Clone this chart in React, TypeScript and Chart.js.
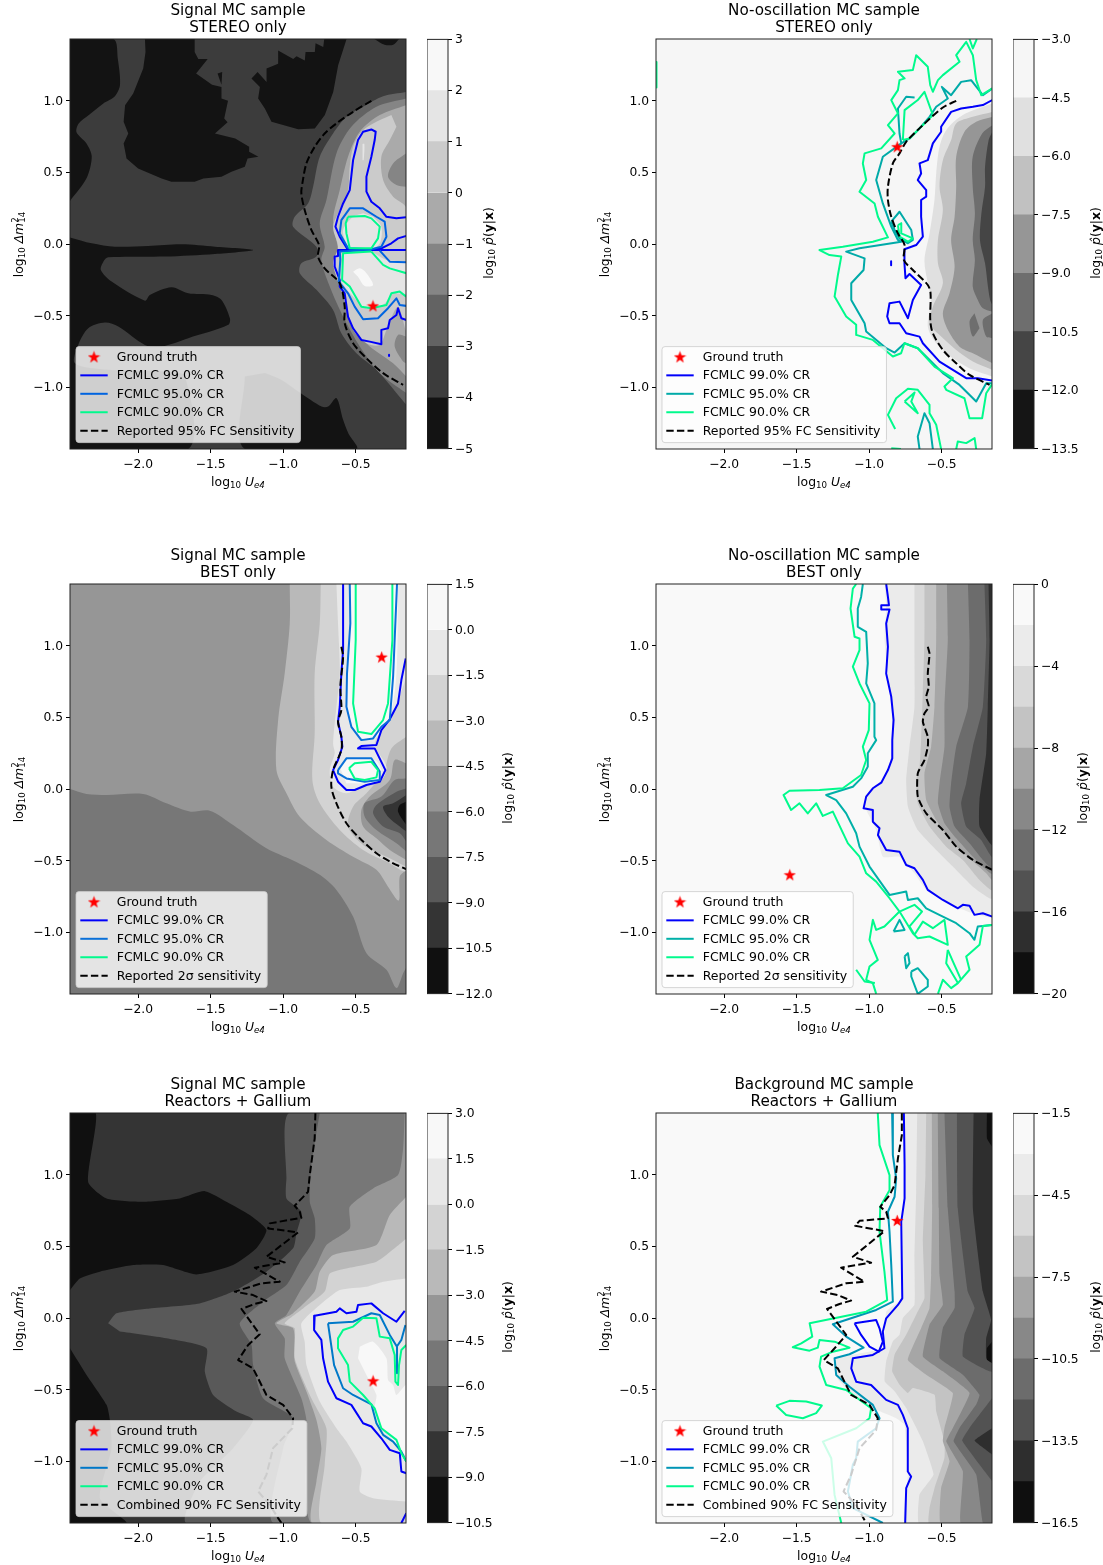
import React, { useEffect, useRef } from "react";
import { Chart, registerables } from "chart.js";

Chart.register(...registerables);

type Pts = number[][];
const FONT = '"DejaVu Sans"';
const xTicks = [-2, -1.5, -1, -0.5];
const yTicks = [-1, -0.5, 0, 0.5, 1];
const X_MIN = -2.47, X_MAX = -0.152, Y_MIN = -1.43, Y_MAX = 1.43;
const fullRect: Pts = [[-2.47, 1.43], [-0.15, 1.43], [-0.15, -1.43], [-2.47, -1.43]];
const loop = (p: Pts): Pts => [...p, p[0]];

// ---------- Panel 1: Signal / STEREO ----------
const p1Levels = [-5, -4, -3, -2, -1, 0, 1, 2, 3];
const p1CbTicks = [-5, -4, -3, -2, -1, 0, 1, 2, 3];
const p1DarkA: Pts = [[-2.47,1.43],[-2.17,1.43],[-2.14,1.29],[-2.125,1.11],[-2.16,1.03],[-2.24,.98],[-2.34,.9],[-2.41,.84],[-2.425,.78],[-2.355,.7],[-2.32,.61],[-2.355,.46],[-2.47,.3]];
const p1DarkB: Pts = [[-1.953,1.43],[-1.61,1.43],[-1.61,1.34],[-1.585,1.29],[-1.52,1.29],[-1.6,1.19],[-1.49,1.11],[-1.425,1.096],[-1.425,1.015],[-1.38,1],[-1.406,.875],[-1.383,.85],[-1.47,.77],[-1.33,.736],[-1.234,.678],[-1.234,.643],[-1.17,.608],[-1.245,.597],[-1.264,.538],[-1.356,.504],[-1.425,.469],[-1.55,.457],[-1.61,.434],[-1.77,.434],[-1.838,.457],[-2,.527],[-2.08,.597],[-2.1,.701],[-2.068,.77],[-2.1,.852],[-2.09,.968],[-2.034,1.05],[-1.965,1.224],[-1.949,1.34]];
const p1DarkSpot: Pts = [[-1.452,1.19],[-1.42,1.2],[-1.425,1.11]];
const p1DarkC: Pts = [[-1.034,1.35],[-.93,1.29],[-.907,1.31],[-.85,1.28],[-.845,1.34],[-.781,1.34],[-.776,1.4],[-.723,1.375],[-.716,1.43],[-.562,1.43],[-.62,1.247],[-.654,1.06],[-.712,.9],[-.781,.806],[-.896,.8],[-1.08,.852],[-1.126,.945],[-1.172,1.015],[-1.16,1.096],[-1.218,1.154],[-1.176,1.2],[-1.114,1.13],[-1.114,1.224],[-1.034,1.258]];
const p1DarkD: Pts = [[-2.47,.046],[-2.32,.005],[-2.16,-.019],[-1.93,-.014],[-1.7,-.002],[-1.47,-.019],[-1.206,-.042],[-1.47,-.07],[-1.815,-.088],[-2.206,-.093],[-2.24,-.123],[-2.257,-.181],[-2.183,-.262],[-1.953,-.395],[-1.919,-.355],[-1.77,-.302],[-1.654,-.344],[-1.493,-.355],[-1.425,-.39],[-1.367,-.518],[-1.378,-.564],[-1.654,-.657],[-1.838,-.715],[-1.953,-.704],[-2.137,-.576],[-2.229,-.548],[-2.344,-.588],[-2.413,-.704],[-2.436,-.832],[-2.206,-.878],[-1.815,-.89],[-1.677,-.925],[-1.654,-1.43],[-2.47,-1.43]];
const p1DarkE: Pts = [[-1.264,-.925],[-1.264,-1.43],[-.494,-1.43],[-.55,-1.32],[-.586,-1.226],[-.632,-1.075],[-.689,-1.134],[-.735,-1.134],[-.88,-1.04],[-1.01,-.948],[-1.126,-.9]];
const p1DarkF: Pts = [[-.37,1.43],[-.3,1.39],[-.24,1.39],[-.2,1.43]];
const p1Band2: Pts = [[-.15,1.06],[-.31,1.03],[-.448,.957],[-.563,.887],[-.655,.771],[-.747,.609],[-.793,.4],[-.828,.283],[-.92,.19],[-.931,.121],[-.77,-.019],[-.77,-.088],[-.874,-.135],[-.885,-.204],[-.77,-.32],[-.655,-.46],[-.598,-.623],[-.494,-.762],[-.356,-.878],[-.15,-1.122]];
const p1Band3: Pts = [[-.15,1.015],[-.356,.957],[-.529,.818],[-.632,.632],[-.701,.307],[-.747,.144],[-.713,-.019],[-.736,-.111],[-.678,-.297],[-.586,-.506],[-.471,-.715],[-.333,-.901],[-.15,-1.04]];
const p1Band4: Pts = [[-.15,.969],[-.333,.899],[-.471,.783],[-.552,.609],[-.609,.376],[-.655,.167],[-.621,-.042],[-.632,-.181],[-.586,-.367],[-.529,-.506],[-.425,-.692],[-.241,-.832],[-.15,-.925]];
const p1Band5: Pts = [[-.253,.899],[-.379,.841],[-.46,.783],[-.517,.678],[-.54,.539],[-.552,.376],[-.598,.26],[-.655,.121],[-.621,-.019],[-.655,-.135],[-.609,-.297],[-.563,-.437],[-.517,-.6],[-.425,-.692],[-.333,-.704],[-.287,-.6],[-.207,-.437],[-.15,-.6],[-.15,.249],[-.241,.33],[-.31,.446],[-.322,.609],[-.264,.725],[-.218,.818]];
const p1Hole3a: Pts = [[-.15,.632],[-.241,.562],[-.276,.469],[-.218,.411],[-.15,.399]];
const p1Hole3b: Pts = [[-.15,-.646],[-.207,-.634],[-.23,-.715],[-.172,-.82],[-.15,-.832]];
const p1Lobe6a: Pts = [[-.448,.214],[-.517,.19],[-.586,.098],[-.563,.005],[-.517,-.042],[-.402,-.042],[-.333,.005],[-.322,.121],[-.379,.19]];
const p1Lobe6b: Pts = [[-.586,-.065],[-.598,-.251],[-.517,-.367],[-.425,-.448],[-.31,-.425],[-.241,-.344],[-.15,-.344],[-.15,-.135],[-.287,-.111],[-.391,-.053]];
const p1Sliver6: Pts = [[-.452,.697],[-.439,.697],[-.444,.585],[-.452,.585]];
const p1Peak7: Pts = [[-.517,-.193],[-.471,-.17],[-.425,-.204],[-.379,-.286],[-.437,-.293],[-.483,-.228]];
const p1Blue: Pts[] = [
  [[-.15,.186],[-.218,.179],[-.287,.19],[-.333,.249],[-.391,.295],[-.425,.365],[-.425,.469],[-.391,.609],[-.368,.725],[-.361,.783],[-.391,.799],[-.448,.783],[-.483,.725],[-.517,.585],[-.54,.376],[-.586,.283],[-.621,.19],[-.639,.121],[-.609,.051],[-.552,-.042]],
  [[-.621,-.042],[-.15,-.042]],
  [[-.621,-.042],[-.621,-.084],[-.644,-.088],[-.644,-.158],[-.609,-.251],[-.609,-.297],[-.575,-.344],[-.552,-.506],[-.517,-.588],[-.46,-.669],[-.402,-.681],[-.322,-.699],[-.322,-.599],[-.276,-.588],[-.264,-.53],[-.218,-.495],[-.207,-.448],[-.184,-.518],[-.15,-.53]],
  [[-.15,.056],[-.207,.039],[-.253,.005],[-.322,-.03],[-.391,-.042]],
  [[-.269,-.772],[-.269,-.782]],
];
const p1Mid: Pts[] = [
  loop([[-.552,-.03],[-.609,.074],[-.598,.167],[-.54,.249],[-.448,.249],[-.356,.19],[-.299,.156],[-.287,.051],[-.322,-.019],[-.391,-.037]]),
  [[-.391,-.042],[-.609,-.053],[-.605,-.111],[-.616,-.262],[-.552,-.344],[-.506,-.437],[-.448,-.525],[-.345,-.518],[-.276,-.448],[-.218,-.379],[-.195,-.425],[-.15,-.432]],
  [[-.333,-.046],[-.264,-.123],[-.15,-.128]],
];
const p1Green: Pts[] = [
  loop([[-.552,.19],[-.437,.195],[-.391,.179],[-.333,.121],[-.345,.039],[-.391,-.03],[-.54,-.03],[-.563,.074],[-.568,.144]]),
  [[-.391,-.053],[-.586,-.065],[-.593,-.251],[-.54,-.297],[-.46,-.437],[-.391,-.448],[-.287,-.425],[-.253,-.344],[-.195,-.332],[-.15,-.367]],
  [[-.391,-.053],[-.31,-.146],[-.264,-.17],[-.15,-.204]],
];
const p1Dash: Pts = [[-.391,.999],[-.517,.922],[-.632,.841],[-.713,.771],[-.782,.678],[-.839,.562],[-.867,.423],[-.874,.353],[-.851,.237],[-.805,.098],[-.752,-.007],[-.759,-.088],[-.713,-.17],[-.609,-.274],[-.575,-.437],[-.575,-.553],[-.517,-.692],[-.425,-.797],[-.31,-.901],[-.172,-.983]];
const p1Star: Pts = [[-.38, -.432]];

// ---------- Panel 2: No-oscillation / STEREO ----------
const p2Levels = [-13.5, -12, -10.5, -9, -7.5, -6, -4.5, -3];
const p2CbTicks = [-13.5, -12, -10.5, -9, -7.5, -6, -4.5, -3];
const p2Band5: Pts = [[-.15,.98],[-.353,.899],[-.468,.794],[-.514,.678],[-.537,.492],[-.549,.307],[-.583,.074],[-.618,-.112],[-.595,-.274],[-.572,-.39],[-.595,-.576],[-.537,-.692],[-.422,-.797],[-.284,-.878],[-.15,-.925]];
const p2Band4: Pts = [[-.15,.922],[-.284,.887],[-.399,.841],[-.434,.725],[-.491,.585],[-.514,.4],[-.491,.237],[-.525,.028],[-.525,-.135],[-.491,-.274],[-.56,-.437],[-.583,-.553],[-.503,-.646],[-.399,-.739],[-.284,-.82],[-.15,-.878]];
const p2Band3: Pts = [[-.15,.887],[-.261,.853],[-.342,.783],[-.399,.609],[-.399,.4],[-.41,.19],[-.434,.028],[-.41,-.158],[-.445,-.344],[-.491,-.483],[-.457,-.599],[-.376,-.716],[-.284,-.762],[-.15,-.832]];
const p2Band2: Pts = [[-.15,.829],[-.22,.771],[-.285,.609],[-.285,.4],[-.27,.214],[-.285,.028],[-.27,-.112],[-.285,-.297],[-.25,-.39],[-.215,-.448],[-.15,-.472]];
const p2Spot2a: Pts = [[-.273,-.483],[-.307,-.541],[-.284,-.646],[-.238,-.588]];
const p2Spot2b: Pts = [[-.15,-.483],[-.215,-.53],[-.192,-.646],[-.15,-.657]];
const p2Band1: Pts = [[-.15,.783],[-.175,.725],[-.2,.539],[-.2,.4],[-.225,.214],[-.235,.028],[-.2,-.135],[-.18,-.297],[-.165,-.39],[-.15,-.425]];
const p2Blue: Pts[] = [
  [[-.15,1.004],[-.215,.969],[-.284,.957],[-.365,.945],[-.434,.922],[-.503,.818],[-.503,.783],[-.56,.702],[-.595,.585],[-.652,.562],[-.641,.492],[-.664,.446],[-.606,.376],[-.606,.33],[-.641,.307],[-.641,.19],[-.629,.051],[-.675,-.007],[-.756,-.037],[-.756,-.135],[-.749,-.239],[-.721,-.209],[-.641,-.286],[-.698,-.39],[-.732,-.518],[-.79,-.402],[-.859,-.413],[-.875,-.506],[-.859,-.553],[-.79,-.553],[-.744,-.623],[-.652,-.646],[-.629,-.692],[-.514,-.82],[-.422,-.878],[-.33,-.936],[-.25,-.936],[-.15,-.952]],
  [[-.848,-.121],[-.848,-.148]],
];
const p2Mid: Pts[] = [
  [[-.15,1.085],[-.215,1.038],[-.296,1.143],[-.365,1.131],[-.434,1.038],[-.498,1.096],[-.457,1.015],[-.537,.957],[-.583,.887],[-.652,.806],[-.721,.736],[-.778,.702],[-.79,.771],[-.801,.945],[-.744,1.027],[-.686,1.022]],
  [[-.778,.702],[-.905,.609],[-.951,.446],[-.905,.283],[-.847,.121],[-.801,.028],[-.778,.016],[-1.066,-.03],[-1.158,-.053],[-1.031,-.1],[-1.038,-.181],[-1.123,-.274],[-1.123,-.39],[-1.031,-.553],[-1.02,-.611],[-.882,-.727],[-.824,-.757],[-.755,-.692],[-.664,-.727],[-.491,-.901],[-.376,-.983],[-.261,-1.099],[-.192,-.971],[-.15,-.971]],
  loop([[-.847,.156],[-.79,.225],[-.709,.098],[-.698,.028],[-.732,.005],[-.79,.039],[-.824,.098]]),
  [[-.652,-1.431],[-.664,-1.343],[-.618,-1.18],[-.583,-1.25],[-.56,-1.431]],
];
const p2Green: Pts[] = [
  [[-.15,1.085],[-.226,1.038],[-.261,1.143],[-.284,1.317],[-.33,1.41],[-.399,1.317],[-.376,1.271],[-.491,1.178],[-.525,1.143],[-.56,1.062],[-.578,1.108],[-.595,1.236],[-.675,1.317],[-.698,1.213],[-.801,1.201],[-.755,1.155],[-.79,1.143],[-.801,1.073],[-.847,1.004],[-.824,.957],[-.801,.911],[-.87,.829],[-.824,.771],[-.916,.667],[-1.031,.632],[-1.043,.562],[-1.02,.446],[-1.066,.365],[-.962,.283],[-.939,.19],[-.87,.046],[-.974,.016],[-1.181,-.019],[-1.342,-.042],[-1.273,-.077],[-1.192,-.088],[-1.215,-.216],[-1.238,-.367],[-1.158,-.506],[-1.089,-.564],[-1.089,-.634],[-.974,-.669],[-.836,-.785],[-.779,-.762],[-.756,-.692],[-.664,-.727],[-.549,-.855],[-.422,-.936],[-.48,-.994],[-.468,-1.017],[-.342,-1.076],[-.307,-1.215],[-.22,-1.215],[-.192,-1.041],[-.15,-.976]],
  [[-.307,1.43],[-.284,1.364],[-.257,1.43]],
  loop([[-.767,.725],[-.755,.934],[-.664,1.004],[-.618,1.062],[-.56,.899],[-.618,.841],[-.721,.736]]),
  loop([[-.801,.132],[-.778,.144],[-.778,.074],[-.698,.039],[-.732,.016],[-.79,.051]]),
  [[-.82,-1.29],[-.87,-1.192],[-.813,-1.076],[-.732,-1.01],[-.664,-1.017],[-.583,-1.122],[-.583,-1.18],[-.537,-1.261],[-.503,-1.431]],
  [[-.847,-1.424],[-.78,-1.43]],
  loop([[-.755,-1.099],[-.686,-1.036],[-.709,-1.099],[-.664,-1.18]]),
  [[-.399,-1.431],[-.388,-1.378],[-.33,-1.389],[-.272,-1.354],[-.261,-1.431]],
  [[-2.468,1.27],[-2.465,1.178],[-2.468,1.092]],
];
const p2Dash: Pts = [[-.399,.999],[-.491,.952],[-.629,.829],[-.744,.713],[-.79,.632],[-.836,.562],[-.87,.4],[-.87,.307],[-.847,.19],[-.801,.074],[-.755,-.007],[-.76,-.112],[-.698,-.181],[-.595,-.286],[-.576,-.344],[-.578,-.53],[-.56,-.623],[-.491,-.739],[-.399,-.832],[-.307,-.913],[-.169,-.983]];
const p2Star: Pts = [[-.806, .678]];

// ---------- Panel 3: Signal / BEST ----------
const p3Levels = [-12, -10.5, -9, -7.5, -6, -4.5, -3, -1.5, 0, 1.5];
const p3CbTicks = [-12, -10.5, -9, -7.5, -6, -4.5, -3, -1.5, 0, 1.5];
const p3Band4: Pts = [[-2.47,0],[-2.356,-.035],[-2.218,-.042],[-1.966,-.035],[-1.805,-.1],[-1.644,-.157],[-1.506,-.151],[-1.345,-.251],[-1.115,-.413],[-.931,-.499],[-.747,-.599],[-.632,-.704],[-.517,-.89],[-.425,-1.145],[-.287,-1.261],[-.218,-1.389],[-.172,-1.285],[-.15,-1.238],[-.15,1.43],[-2.47,1.43]];
const p3Band5: Pts = [[-.954,1.43],[-.954,1.155],[-.989,.806],[-1.034,.481],[-1.046,.132],[-.977,-.03],[-.885,-.193],[-.701,-.355],[-.517,-.472],[-.356,-.564],[-.276,-.681],[-.202,-.778],[-.195,-.611],[-.15,-.553],[-.15,1.43]];
const p3Band6: Pts = [[-.74,1.43],[-.747,1.155],[-.782,.806],[-.782,.388],[-.798,.063],[-.747,-.1],[-.609,-.286],[-.448,-.425],[-.287,-.506],[-.15,-.564],[-.15,1.43]];
const p3Hole5: Pts = [[-.15,.365],[-.253,.283],[-.31,.109],[-.425,-.03],[-.517,-.123],[-.552,-.262],[-.448,-.39],[-.287,-.472],[-.15,-.541]];
const p3Hole4: Pts = [[-.15,.179],[-.23,.202],[-.264,.063],[-.402,-.053],[-.46,-.146],[-.448,-.262],[-.356,-.344],[-.264,-.425],[-.15,-.495]];
const p3Hole3: Pts = [[-.15,.074],[-.23,.063],[-.322,-.053],[-.437,-.1],[-.437,-.193],[-.356,-.286],[-.218,-.379],[-.15,-.437]];
const p3Hole2: Pts = [[-.15,.005],[-.218,-.019],[-.356,-.112],[-.379,-.17],[-.31,-.262],[-.195,-.309],[-.15,-.367]];
const p3Hole1: Pts = [[-.15,-.042],[-.241,-.1],[-.31,-.123],[-.276,-.193],[-.195,-.262],[-.15,-.297]];
const p3Hole0: Pts = [[-.15,-.088],[-.195,-.112],[-.207,-.158],[-.15,-.251]];
const p3Band7: Pts = [[-.632,1.43],[-.621,1.155],[-.609,.806],[-.632,.574],[-.655,.318],[-.644,.249],[-.678,.132],[-.655,.016],[-.563,-.03],[-.483,.005],[-.322,.063],[-.287,.156],[-.368,.318],[-.253,.492],[-.207,.62],[-.15,.806],[-.15,1.43]];
const p3Band8: Pts = [[-.54,1.43],[-.54,1.038],[-.563,.62],[-.517,.411],[-.425,.341],[-.356,.365],[-.264,.504],[-.218,.806],[-.207,1.43]];
const p3Lobe8: Pts = [[-.609,.156],[-.54,.214],[-.368,.202],[-.322,.132],[-.356,.051],[-.563,.039]];
const p3Blue: Pts[] = [
  [[-.586,1.43],[-.586,1.155],[-.586,.969],[-.598,.806],[-.609,.574],[-.621,.469],[-.598,.365],[-.591,.295],[-.621,.202],[-.655,.132],[-.621,.051],[-.563,-.007],[-.506,-.007],[-.425,.028],[-.333,.051],[-.294,.132],[-.368,.283],[-.483,.283],[-.46,.3],[-.356,.307],[-.322,.411],[-.264,.486],[-.207,.597],[-.184,.76],[-.154,.911]],
];
const p3Mid: Pts[] = [
  [[-.54,1.43],[-.536,1.155],[-.559,.806],[-.563,.574],[-.529,.434],[-.46,.341],[-.379,.353],[-.322,.434],[-.264,.481],[-.241,.783],[-.214,1.43]],
  loop([[-.621,.132],[-.563,.214],[-.391,.214],[-.333,.121],[-.333,.063],[-.437,.051],[-.563,.074],[-.621,.109]]),
];
const p3Green: Pts[] = [
  [[-.499,1.43],[-.499,1.038],[-.517,.597],[-.483,.4],[-.391,.383],[-.31,.481],[-.276,.597],[-.246,1.038],[-.246,1.43]],
  loop([[-.545,.144],[-.506,.179],[-.391,.19],[-.345,.132],[-.356,.081],[-.437,.063],[-.506,.074]]),
];
const p3Dash: Pts = [[-.598,.992],[-.586,.922],[-.605,.713],[-.598,.551],[-.621,.469],[-.598,.365],[-.598,.272],[-.655,.132],[-.667,.016],[-.632,-.1],[-.563,-.239],[-.471,-.344],[-.356,-.448],[-.264,-.506],[-.15,-.56]];
const p3Star: Pts = [[-.32, .92]];

// ---------- Panel 4: No-oscillation / BEST ----------
const p4Levels = [-20, -18, -16, -14, -12, -10, -8, -6, -4, -2, 0];
const p4CbTicks = [-20, -16, -12, -8, -4, 0];
const p4Band8: Pts = [[-.893,1.43],[-.882,1.271],[-.893,1.038],[-.87,.806],[-.847,.574],[-.836,.341],[-.859,.156],[-.905,.063],[-.997,-.007],[-1.031,-.1],[-1.02,-.146],[-.951,-.286],[-.905,-.472],[-.79,-.472],[-.687,-.588],[-.606,-.704],[-.491,-.774],[-.376,-.832],[-.284,-.867],[-.15,-.89],[-.15,1.43]];
const p4Band7: Pts = [[-.687,1.43],[-.687,1.038],[-.687,.574],[-.721,.295],[-.744,.063],[-.732,-.123],[-.664,-.286],[-.537,-.425],[-.422,-.541],[-.284,-.681],[-.15,-.762],[-.15,1.43]];
const p4Band6: Pts = [[-.618,1.43],[-.618,1.038],[-.629,.69],[-.641,.341],[-.652,.156],[-.675,.063],[-.664,-.1],[-.583,-.262],[-.468,-.402],[-.353,-.495],[-.238,-.634],[-.15,-.704],[-.15,1.43]];
const p4Band5: Pts = [[-.537,1.43],[-.537,1.038],[-.549,.574],[-.572,.295],[-.618,.109],[-.606,-.077],[-.537,-.216],[-.422,-.379],[-.307,-.483],[-.192,-.588],[-.15,-.634],[-.15,1.43]];
const p4Band4: Pts = [[-.463,1.43],[-.457,1.038],[-.48,.574],[-.48,.295],[-.514,.039],[-.525,-.1],[-.48,-.239],[-.399,-.344],[-.284,-.472],[-.15,-.588],[-.15,1.43]];
const p4Band3: Pts = [[-.318,1.43],[-.307,1.038],[-.318,.574],[-.399,.295],[-.434,.039],[-.445,-.123],[-.41,-.262],[-.307,-.379],[-.215,-.495],[-.15,-.553],[-.15,1.43]];
const p4Band2: Pts = [[-.204,1.43],[-.192,1.038],[-.215,.574],[-.284,.295],[-.33,.039],[-.365,-.1],[-.33,-.262],[-.227,-.355],[-.15,-.472],[-.15,1.43]];
const p4Band1: Pts = [[-.176,1.43],[-.169,1.038],[-.181,.574],[-.192,.249],[-.238,-.077],[-.238,-.262],[-.15,-.39],[-.15,1.43]];
const p4Blue: Pts[] = [
  [[-.882,1.43],[-.87,1.34],[-.863,1.282],[-.916,1.282],[-.916,1.252],[-.859,1.252],[-.882,1.155],[-.87,.992],[-.882,.806],[-.847,.643],[-.831,.481],[-.84,.341],[-.84,.214],[-.87,.132],[-.916,.044],[-.974,.005],[-1.02,-.053],[-1.038,-.135],[-.974,-.146],[-.974,-.228],[-.928,-.274],[-.939,-.321],[-.882,-.425],[-.79,-.437],[-.744,-.53],[-.687,-.553],[-.629,-.634],[-.595,-.704],[-.491,-.774],[-.387,-.832],[-.353,-.808],[-.307,-.815],[-.273,-.878],[-.215,-.867],[-.15,-.89]],
];
const p4Mid: Pts[] = [
  [[-1.043,1.43],[-1.055,1.34],[-1.078,1.259],[-1.078,1.131],[-1.02,1.096],[-1.009,.876],[-1.02,.736],[-.963,.597],[-.963,.365],[-.951,.341],[-1.009,.249],[-1.009,.156],[-1.055,.074],[-1.112,.016],[-1.296,-.042],[-1.227,-.077],[-1.158,-.17],[-1.089,-.309],[-1.066,-.402],[-.997,-.541],[-.859,-.739],[-.744,-.715],[-.732,-.774],[-.664,-.762],[-.606,-.832],[-.491,-.89],[-.399,-.936],[-.307,-1.006],[-.273,-1.052],[-.25,-.959],[-.15,-.948]],
  loop([[-.831,-.994],[-.79,-.913],[-.755,-.983]]),
  loop([[-.755,-1.168],[-.732,-1.145],[-.721,-1.215],[-.744,-1.25]]),
  loop([[-.709,-1.273],[-.664,-1.25],[-.595,-1.331],[-.595,-1.378],[-.664,-1.429],[-.709,-1.308]]),
];
const p4Green: Pts[] = [
  [[-1.089,1.43],[-1.112,1.398],[-1.128,1.259],[-1.1,1.062],[-1.066,1.05],[-1.066,.969],[-1.112,.853],[-1.066,.736],[-.997,.597],[-1.002,.411],[-1.043,.295],[-1.02,.202],[-1.055,.098],[-1.181,.005],[-1.342,-.007],[-1.549,-.012],[-1.59,-.042],[-1.538,-.146],[-1.48,-.1],[-1.423,-.17],[-1.365,-.1],[-1.319,-.188],[-1.25,-.158],[-1.146,-.379],[-1.066,-.472],[-1.02,-.588],[-.951,-.646],[-.859,-.762],[-.79,-.855],[-.698,-1.006],[-.664,-1.041],[-.583,-1.029],[-.457,-1.087],[-.48,-.913],[-.56,-.971],[-.629,-.925],[-.687,-1.017],[-.721,-.959],[-.635,-.855],[-.687,-.808],[-.79,-.855],[-.894,-.959],[-.951,-.983],[-.974,-.913],[-.997,-1.052],[-.94,-1.192],[-.997,-1.238],[-1.02,-1.331],[-.974,-1.354],[-.951,-1.429]],
  [[-1.089,-1.261],[-1.031,-1.343],[-.96,-1.354]],
  [[-.15,-.948],[-.215,-.955],[-.238,-1.087],[-.33,-1.168],[-.307,-1.261],[-.387,-1.354],[-.434,-1.389],[-.491,-1.331],[-.525,-1.429]],
  [[-.457,-1.122],[-.422,-1.203],[-.365,-1.331]],
  [[-.457,-1.122],[-.468,-1.215],[-.387,-1.354]],
];
const p4Dash: Pts = [[-.595,.992],[-.583,.945],[-.595,.806],[-.588,.713],[-.606,.643],[-.588,.574],[-.618,.527],[-.629,.469],[-.595,.365],[-.595,.295],[-.618,.202],[-.664,.109],[-.664,-.053],[-.606,-.17],[-.491,-.286],[-.399,-.402],[-.284,-.495],[-.15,-.564]];
const p4Star: Pts = [[-1.547, -.599]];

// ---------- Panel 5: Signal / Reactors + Gallium ----------
const p5Levels = [-10.5, -9, -7.5, -6, -4.5, -3, -1.5, 0, 1.5, 3];
const p5CbTicks = [-10.5, -9, -7.5, -6, -4.5, -3, -1.5, 0, 1.5, 3];
const p5Dark1: Pts = [[-2.47,1.43],[-2.292,1.43],[-2.345,.95],[-2.218,.834],[-1.966,.811],[-1.713,.834],[-1.54,.885],[-1.391,.811],[-1.23,.718],[-1.115,.613],[-1.184,.486],[-1.345,.369],[-1.598,.304],[-1.828,.369],[-2.034,.369],[-2.264,.323],[-2.402,.276],[-2.47,.195]];
const p5Dark2: Pts = [[-2.47,-.211],[-2.356,-.397],[-2.218,-.606],[-2.195,-.711],[-2.184,-.908],[-2.264,-1.257],[-2.08,-1.43],[-2.47,-1.43]];
const p5Band2: Pts = [[-2.207,-.037],[-2.149,.033],[-1.92,.067],[-1.575,.102],[-1.345,.184],[-1.115,.323],[-.931,.486],[-.908,.59],[-.874,.741],[-.977,.834],[-.977,.973],[-.959,1.43],[-.15,1.43],[-.15,-1.43],[-1.667,-1.43],[-1.575,-1.141],[-1.345,-.908],[-1.207,-.711],[-1.322,-.653],[-1.483,-.537],[-1.54,-.374],[-1.529,-.211],[-1.805,-.142],[-2.126,-.095]];
const p5Band3: Pts = [[-.747,1.43],[-.805,1.066],[-.816,.811],[-.782,.695],[-.782,.555],[-.885,.393],[-.977,.23],[-1.138,.114],[-1.299,-.037],[-1.218,-.188],[-1.207,-.328],[-1.138,-.56],[-.931,-.699],[-1,-.908],[-1.069,-1.43],[-.15,-1.43],[-.15,1.43]];
const p5Band4: Pts = [[-.161,1.43],[-.172,1.182],[-.207,.997],[-.379,.904],[-.54,.776],[-.54,.625],[-.701,.509],[-.77,.369],[-.885,.184],[-.977,.021],[-1.057,-.037],[-.989,-.142],[-.989,-.281],[-.874,-.56],[-.839,-.711],[-.805,-1.43],[-.15,-1.43],[-.15,1.43]];
const p5Band5: Pts = [[-.15,.846],[-.264,.718],[-.356,.509],[-.655,.439],[-.747,.323],[-.782,.184],[-.931,.033],[-1.046,-.037],[-.931,-.072],[-.92,-.211],[-.92,-.304],[-.839,-.513],[-.77,-.711],[-.736,-.908],[-.77,-1.141],[-.798,-1.43],[-.15,-1.43]];
const p5Band6: Pts = [[-.15,.555],[-.218,.497],[-.356,.393],[-.563,.346],[-.678,.311],[-.713,.184],[-.862,.067],[-.989,-.037],[-.92,-.072],[-.92,-.281],[-.805,-.56],[-.701,-.769],[-.713,-1.024],[-.736,-1.43],[-.15,-1.43]];
const p5Band7: Pts = [[-.15,.276],[-.31,.253],[-.425,.218],[-.609,.195],[-.747,.091],[-.874,-.037],[-.851,-.165],[-.839,-.328],[-.747,-.583],[-.632,-.769],[-.563,-.862],[-.46,-1.048],[-.471,-1.21],[-.379,-1.257],[-.15,-1.28]];
const p5Band8: Pts = [[-.471,-.2],[-.379,-.165],[-.287,-.281],[-.276,-.432],[-.241,-.467],[-.218,-.537],[-.15,-.467],[-.15,-.955],[-.264,-.827],[-.322,-.757],[-.368,-.63],[-.356,-.537],[-.425,-.397],[-.483,-.281]];
const p5Blue: Pts[] = [
  [[-.161,.049],[-.218,-.026],[-.31,.033],[-.391,.102],[-.483,.091],[-.494,.044],[-.563,.033],[-.609,.067],[-.632,.044],[-.782,.016],[-.786,-.084],[-.736,-.153],[-.724,-.281],[-.69,-.444],[-.632,-.56],[-.529,-.606],[-.448,-.734],[-.391,-.757],[-.322,-.839],[-.264,-.92],[-.195,-.943],[-.184,-1.071],[-.15,-1.083]],
  [[-.184,-1.43],[-.15,-1.361]],
];
const p5Mid: Pts[] = [
  [[-.69,-.037],[-.517,-.026],[-.391,.033],[-.333,.021],[-.264,-.118],[-.214,-.2],[-.214,-.386]],
  [[-.214,-.197],[-.184,-.153],[-.156,-.049]],
  [[-.69,-.037],[-.648,-.328],[-.586,-.49],[-.517,-.537],[-.391,-.602],[-.356,-.734],[-.31,-.815],[-.241,-.862],[-.184,-.932],[-.15,-1.001]],
];
const p5Green: Pts[] = [
  [[-.15,-.188],[-.184,-.223],[-.2,-.328],[-.207,-.467],[-.225,-.444],[-.23,-.258],[-.264,-.142],[-.333,-.13],[-.356,-.002],[-.448,.002],[-.517,-.06],[-.586,-.084],[-.621,-.142],[-.621,-.211],[-.552,-.328],[-.54,-.444],[-.448,-.537],[-.368,-.63],[-.322,-.769],[-.218,-.85],[-.184,-.943],[-.15,-1.001]],
];
const p5Dash: Pts = [[-.777,1.43],[-.782,1.252],[-.816,.997],[-.828,.88],[-.92,.783],[-.885,.741],[-.874,.699],[-1.092,.66],[-1.103,.625],[-.897,.597],[-1.115,.427],[-.989,.388],[-1.195,.351],[-1.023,.253],[-1.149,.242],[-1.333,.184],[-1.207,.16],[-1.115,.118],[-1.195,.098],[-1.287,.063],[-1.161,-.114],[-1.241,-.188],[-1.31,-.293],[-1.207,-.351],[-1.115,-.537],[-1,-.606],[-.931,-.699],[-.936,-.769],[-1.069,-.908],[-1.115,-1.094],[-1.172,-1.21],[-1.092,-1.303],[-1.034,-1.396],[-1.011,-1.43]];
const p5Star: Pts = [[-.379, -.439]];

// ---------- Panel 6: Background / Reactors + Gallium ----------
const p6Levels = [-16.5, -15, -13.5, -12, -10.5, -9, -7.5, -6, -4.5, -3, -1.5];
const p6CbTicks = [-16.5, -13.5, -10.5, -7.5, -4.5, -1.5];
const p6Band8: Pts = [[-.755,1.43],[-.755,.95],[-.767,.648],[-.772,.137],[-.882,.044],[-.905,-.211],[-1.231,-.281],[-1.22,-.42],[-1.112,-.537],[-.974,-.63],[-.813,-.699],[-.755,-.746],[-.732,-1.094],[-.755,-1.43],[-.15,-1.43],[-.15,1.43]];
const p6Band7: Pts = [[-.668,1.43],[-.675,.882],[-.687,.418],[-.687,.092],[-.767,0],[-.79,-.117],[-.836,-.163],[-.882,-.303],[-.893,-.442],[-.824,-.511],[-.744,-.628],[-.629,-.86],[-.555,-1.092],[-.652,-1.232],[-.657,-1.43],[-.15,-1.43],[-.15,1.43]];
const p6Band6: Pts = [[-.606,1.43],[-.611,.998],[-.629,.534],[-.618,.139],[-.675,.023],[-.744,-.117],[-.824,-.256],[-.841,-.372],[-.79,-.465],[-.733,-.523],[-.698,-.488],[-.548,-.535],[-.537,-.651],[-.48,-.86],[-.48,-.976],[-.548,-1.185],[-.583,-1.325],[-.588,-1.43],[-.15,-1.43],[-.15,1.43]];
const p6Band5: Pts = [[-.567,1.43],[-.565,.766],[-.572,.301],[-.583,.069],[-.64,-.07],[-.733,-.291],[-.606,-.395],[-.422,-.523],[-.48,-.767],[-.491,-.86],[-.445,-.999],[-.503,-1.185],[-.507,-1.43],[-.15,-1.43],[-.15,1.43]];
const p6Band4: Pts = [[-.526,1.43],[-.519,.766],[-.514,.301],[-.491,.092],[-.583,-.047],[-.629,-.268],[-.491,-.372],[-.307,-.523],[-.422,-.767],[-.468,-.86],[-.353,-1.069],[-.369,-1.43],[-.15,-1.43],[-.15,1.43]];
const p6Band3: Pts = [[-.48,1.43],[-.457,.766],[-.41,.185],[-.41,.069],[-.491,-.07],[-.514,-.279],[-.353,-.395],[-.238,-.535],[-.261,-.604],[-.376,-.767],[-.417,-.86],[-.261,-1.092],[-.215,-1.43],[-.15,-1.43],[-.15,1.43]];
const p6Band2a: Pts = [[-.394,1.43],[-.388,.766],[-.319,.185],[-.272,.069],[-.342,-.117],[-.353,-.268],[-.15,-.372],[-.15,1.43]];
const p6Band2b: Pts = [[-.15,-.558],[-.307,-.767],[-.358,-.855],[-.15,-1.139]];
const p6Band1a: Pts = [[-.279,1.43],[-.284,.766],[-.215,.185],[-.158,-.012],[-.192,-.14],[-.192,-.279],[-.15,-.314],[-.15,1.43]];
const p6Band1b: Pts = [[-.15,-.767],[-.272,-.855],[-.15,-.953]];
const p6Band0a: Pts = [[-.187,1.43],[-.187,1.254],[-.15,1.196],[-.15,1.43]];
const p6Band0b: Pts = [[-.15,-.163],[-.187,-.21],[-.187,-.291],[-.15,-.314]];
const p6Blue: Pts[] = [
  [[-.76,1.43],[-.755,1.066],[-.755,.834],[-.778,.671],[-.771,.137],[-.801,.091],[-.882,-.002],[-.905,-.095],[-.894,-.211],[-.974,-.258],[-1.112,-.281],[-1.123,-.351],[-1.089,-.444],[-.986,-.467],[-.882,-.571],[-.801,-.606],[-.767,-.676],[-.733,-.769],[-.733,-1.071],[-.71,-1.106],[-.744,-1.187],[-.751,-1.43]],
  loop([[-1.1,-.037],[-.951,-.014],[-.928,-.072],[-.905,-.165],[-.933,-.235],[-.997,-.2],[-1.055,-.118]]),
];
const p6Mid: Pts[] = [
  [[-.841,1.43],[-.836,1.136],[-.813,.973],[-.824,.846],[-.87,.741],[-.859,.602],[-.847,.369],[-.836,.114],[-.951,.056],[-1.25,-.044],[-1.158,-.13],[-1.038,-.207],[-1.135,-.253],[-1.238,-.281],[-1.227,-.397],[-1.135,-.479],[-.974,-.606],[-.928,-.699],[-.951,-.769],[-1.078,-.862],[-1.089,-.978],[-1.112,-1.024],[-1.146,-1.21],[-1.112,-1.326],[-.905,-1.43]],
];
const p6Green: Pts[] = [
  [[-.94,1.43],[-.928,1.206],[-.859,.997],[-.859,.892],[-.923,.776],[-.928,.602],[-.894,.323],[-.875,.125],[-1.02,.044],[-1.41,-.037],[-1.392,-.13],[-1.468,-.177],[-1.526,-.204],[-1.411,-.228],[-1.354,-.207],[-1.342,-.153],[-1.238,-.165],[-1.135,-.207],[-1.25,-.235],[-1.331,-.269],[-1.342,-.339],[-1.296,-.467],[-1.158,-.502],[-.986,-.63],[-.997,-.699],[-1.089,-.769],[-1.319,-.862],[-1.261,-.978],[-1.238,-1.234],[-1.192,-1.43]],
  loop([[-1.641,-.611],[-1.549,-.578],[-1.434,-.583],[-1.326,-.611],[-1.365,-.664],[-1.457,-.699],[-1.572,-.676]]),
];
const p6Dash: Pts = [[-.774,1.43],[-.774,1.275],[-.801,1.113],[-.824,.927],[-.859,.857],[-.923,.776],[-.882,.741],[-.87,.695],[-1.066,.678],[-1.096,.643],[-.894,.606],[-.928,.578],[-1.112,.427],[-.986,.386],[-1.193,.351],[-1.032,.253],[-1.158,.242],[-1.331,.184],[-1.216,.16],[-1.124,.121],[-1.204,.098],[-1.29,.063],[-1.158,-.118],[-1.238,-.211],[-1.312,-.293],[-1.216,-.351],[-1.124,-.537],[-.997,-.606],[-.94,-.699],[-.951,-.781],[-1.066,-.908],[-1.124,-1.094],[-1.176,-1.21],[-1.089,-1.303],[-1.02,-1.43]];
const p6Star: Pts = [[-.806, .68]];

// ---------- Layout of the six panels ----------
const LEGEND_STARS = "Ground truth";
const LABEL_99 = "FCMLC 99.0% CR", LABEL_95 = "FCMLC 95.0% CR", LABEL_90 = "FCMLC 90.0% CR";
const BLUE = "#0000fa", GREEN = "#00fa8c";

type Fill = [number, Pts];
interface Panel {
  title: string[]; left: number; top: number; levels: number[]; cbTicks: number[]; decimals: number;
  fills: Fill[]; blue: Pts[]; mid: Pts[]; green: Pts[]; dash: Pts; star: Pts; midColor: string;
  dashLabel: string; cbLabelOffset: number; tension: number; dashTension: number; sharp?: Pts[];
}
const panels: Panel[] = [
  { title: ["Signal MC sample", "STEREO only"], left: 70, top: 39, levels: p1Levels, cbTicks: p1CbTicks, decimals: 0,
    fills: [[1, fullRect], [0, p1DarkA], [0, p1DarkB], [0, p1DarkSpot], [0, p1DarkC], [0, p1DarkD], [0, p1DarkE], [0, p1DarkF], [2, p1Band2], [3, p1Band3], [4, p1Band4], [3, p1Hole3a], [3, p1Hole3b], [5, p1Band5], [6, p1Lobe6a], [6, p1Lobe6b], [6, p1Sliver6], [7, p1Peak7]],
    blue: p1Blue, mid: p1Mid, green: p1Green, dash: p1Dash, star: p1Star, midColor: "#0064e0", dashLabel: "Reported 95% FC Sensitivity", cbLabelOffset: 61,
    tension: 0.3, dashTension: 0.3, sharp: [p1DarkB, p1DarkC, p1DarkSpot] },
  { title: ["No-oscillation MC sample", "STEREO only"], left: 656, top: 39, levels: p2Levels, cbTicks: p2CbTicks, decimals: 1,
    fills: [[6, fullRect], [5, p2Band5], [4, p2Band4], [3, p2Band3], [2, p2Band2], [2, p2Spot2a], [2, p2Spot2b], [1, p2Band1]],
    blue: p2Blue, mid: p2Mid, green: p2Green, dash: p2Dash, star: p2Star, midColor: "#00aaa8", dashLabel: "Reported 95% FC Sensitivity", cbLabelOffset: 82,
    tension: 0.3, dashTension: 0.3 },
  { title: ["Signal MC sample", "BEST only"], left: 70, top: 584, levels: p3Levels, cbTicks: p3CbTicks, decimals: 1,
    fills: [[3, fullRect], [4, p3Band4], [5, p3Band5], [6, p3Band6], [5, p3Hole5], [4, p3Hole4], [3, p3Hole3], [2, p3Hole2], [1, p3Hole1], [0, p3Hole0], [7, p3Band7], [8, p3Band8], [8, p3Lobe8]],
    blue: p3Blue, mid: p3Mid, green: p3Green, dash: p3Dash, star: p3Star, midColor: "#0a70d8", dashLabel: "Reported 2σ sensitivity", cbLabelOffset: 80,
    tension: 0.3, dashTension: 0.3 },
  { title: ["No-oscillation MC sample", "BEST only"], left: 656, top: 584, levels: p4Levels, cbTicks: p4CbTicks, decimals: 0,
    fills: [[9, fullRect], [8, p4Band8], [7, p4Band7], [6, p4Band6], [5, p4Band5], [4, p4Band4], [3, p4Band3], [2, p4Band2], [1, p4Band1]],
    blue: p4Blue, mid: p4Mid, green: p4Green, dash: p4Dash, star: p4Star, midColor: "#00b0a8", dashLabel: "Reported 2σ sensitivity", cbLabelOffset: 69,
    tension: 0.15, dashTension: 0.2 },
  { title: ["Signal MC sample", "Reactors + Gallium"], left: 70, top: 1113, levels: p5Levels, cbTicks: p5CbTicks, decimals: 1,
    fills: [[1, fullRect], [0, p5Dark1], [0, p5Dark2], [2, p5Band2], [3, p5Band3], [4, p5Band4], [5, p5Band5], [6, p5Band6], [7, p5Band7], [8, p5Band8]],
    blue: p5Blue, mid: p5Mid, green: p5Green, dash: p5Dash, star: p5Star, midColor: "#0078c8", dashLabel: "Combined 90% FC Sensitivity", cbLabelOffset: 80,
    tension: 0.2, dashTension: 0 },
  { title: ["Background MC sample", "Reactors + Gallium"], left: 656, top: 1113, levels: p6Levels, cbTicks: p6CbTicks, decimals: 1,
    fills: [[9, fullRect], [8, p6Band8], [7, p6Band7], [6, p6Band6], [5, p6Band5], [4, p6Band4], [3, p6Band3], [2, p6Band2a], [2, p6Band2b], [1, p6Band1a], [1, p6Band1b], [0, p6Band0a], [0, p6Band0b]],
    blue: p6Blue, mid: p6Mid, green: p6Green, dash: p6Dash, star: p6Star, midColor: "#0095b5", dashLabel: "Combined 90% FC Sensitivity", cbLabelOffset: 82,
    tension: 0.1, dashTension: 0 },
];

// Greys colormap stops (reversed), sampled at each band's midpoint as contourf does
const greysR = [0, 0x25, 0x52, 0x73, 0x96, 0xbd, 0xd9, 0xf0, 0xff];
function bandColor(i: number, n: number): string {
  const t = ((i + 0.5) / n) * 8;
  const k = Math.min(7, Math.floor(t));
  const v = Math.round(greysR[k] + (greysR[k + 1] - greysR[k]) * (t - k));
  return `rgb(${v},${v},${v})`;
}

const fmt = (v: number, d: number) => (v < 0 ? "\u2212" : "") + Math.abs(v).toFixed(d);
const xy = (p: Pts) => p.map(([x, y]) => ({ x, y }));

function makeStar(size: number): HTMLCanvasElement {
  const c = document.createElement("canvas");
  c.width = c.height = size;
  const g = c.getContext("2d")!;
  const r = size / 2, q = r * 0.4;
  g.fillStyle = "#ff0000";
  g.beginPath();
  for (let i = 0; i < 10; i++) {
    const a = -Math.PI / 2 + (i * Math.PI) / 5;
    const rr = i % 2 ? q : r;
    g.lineTo(r + rr * Math.cos(a), r + 0.4 + rr * Math.sin(a));
  }
  g.closePath();
  g.fill();
  return c;
}

type Seg = { t: string; i?: boolean; b?: boolean; sub?: boolean; sup?: boolean; keep?: boolean };
const xLabel: Seg[] = [{ t: "log" }, { t: "10", sub: true }, { t: " " }, { t: "U", i: true }, { t: "e4", sub: true, i: true }];
const yLabel: Seg[] = [{ t: "log" }, { t: "10", sub: true }, { t: " " }, { t: "Δm", i: true }, { t: "2", sup: true, keep: true }, { t: "14", sub: true }];
const cbLabel: Seg[] = [{ t: "log" }, { t: "10", sub: true }, { t: " " }, { t: "p̂", i: true }, { t: "(" }, { t: "y", b: true }, { t: "|" }, { t: "x", b: true }, { t: ")" }];
const LABEL_SIZE = 12.4;

function drawRich(ctx: CanvasRenderingContext2D, segs: Seg[], cx: number, cy: number, rot: number) {
  const font = (s: Seg) => `${s.i ? "italic " : ""}${s.b ? "bold " : ""}${s.sub || s.sup ? LABEL_SIZE * 0.7 : LABEL_SIZE}px ${FONT}`;
  let total = 0;
  for (const s of segs) { ctx.font = font(s); if (!s.keep) total += ctx.measureText(s.t).width; }
  ctx.save();
  ctx.translate(cx, cy);
  ctx.rotate(rot);
  ctx.fillStyle = "#000";
  ctx.textAlign = "left";
  ctx.textBaseline = "alphabetic";
  let x = -total / 2;
  for (const s of segs) {
    ctx.font = font(s);
    ctx.fillText(s.t, x, 4.5 + (s.sub ? 2.5 : s.sup ? -5 : 0));
    if (!s.keep) x += ctx.measureText(s.t).width;
  }
  ctx.restore();
}

const framePlugin = {
  id: "frame",
  afterDraw(chart: any) {
    const { ctx, chartArea: a } = chart;
    ctx.save();
    ctx.strokeStyle = "#222";
    ctx.lineWidth = 1;
    ctx.strokeRect(a.left, a.top, a.right - a.left, a.bottom - a.top);
    ctx.restore();
  },
};

function legendPlugin(p: Panel, star: HTMLCanvasElement) {
  return {
    id: "panelLegend",
    afterDatasetsDraw(chart: any) {
      const { ctx, chartArea: a } = chart;
      const rows = [
        { label: LEGEND_STARS },
        { label: LABEL_99, color: BLUE },
        { label: LABEL_95, color: p.midColor },
        { label: LABEL_90, color: GREEN },
        { label: p.dashLabel, color: "#000", dash: [7.4, 3.2] },
      ];
      ctx.save();
      ctx.font = `12.5px ${FONT}`;
      const textW = Math.max(...rows.map((r) => ctx.measureText(r.label).width));
      const w = 40.7 + textW + 6, h = 96;
      const x = a.left + 6, y = a.bottom - 6.4 - h;
      ctx.beginPath();
      ctx.roundRect(x, y, w, h, 3);
      ctx.fillStyle = "rgba(255,255,255,0.8)";
      ctx.fill();
      ctx.strokeStyle = "rgba(204,204,204,0.8)";
      ctx.lineWidth = 1;
      ctx.stroke();
      ctx.textBaseline = "middle";
      ctx.textAlign = "left";
      rows.forEach((r, i) => {
        const ry = y + 10.3 + i * 18.45;
        if (r.color) {
          ctx.beginPath();
          ctx.setLineDash(r.dash || []);
          ctx.strokeStyle = r.color;
          ctx.lineWidth = 2;
          ctx.moveTo(x + 4.3, ry);
          ctx.lineTo(x + 31.7, ry);
          ctx.stroke();
          ctx.setLineDash([]);
        } else {
          ctx.drawImage(star, x + 18 - star.width / 2, ry - star.height / 2);
        }
        ctx.fillStyle = "#000";
        ctx.fillText(r.label, x + 40.7, ry + 0.8);
      });
      ctx.restore();
    },
  };
}

function labelsPlugin(items: { segs: Seg[]; x: number; y: number; rot: number }[]) {
  return {
    id: "mathLabels",
    afterDraw(chart: any) {
      for (const it of items) drawRich(chart.ctx, it.segs, it.x, it.y, it.rot);
    },
  };
}

const tickFont = { family: FONT, size: 12.3 };

function mainConfig(p: Panel, star: HTMLCanvasElement): any {
  const datasets: any[] = [];
  const line = (pts: Pts, color: string, extra: any = {}) => ({
    data: xy(pts), showLine: true, borderColor: color, borderWidth: 2, pointRadius: 0, fill: false, tension: 0, borderJoinStyle: "round", ...extra,
  });
  datasets.push({ data: xy(p.star), showLine: false, pointStyle: star, pointRadius: 6, backgroundColor: "#f00", order: 0 });
  datasets.push(line(p.dash, "#000", { borderDash: [7.4, 3.2], order: 1, tension: p.dashTension }));
  p.green.forEach((c) => datasets.push(line(c, GREEN, { order: 2 })));
  p.mid.forEach((c) => datasets.push(line(c, p.midColor, { order: 3 })));
  p.blue.forEach((c) => datasets.push(line(c, BLUE, { order: 4 })));
  const n = p.levels.length - 1;
  p.fills.forEach(([band, poly], i) => {
    const sharp = poly === fullRect || (p.sharp && p.sharp.includes(poly));
    datasets.push({
      data: xy(poly), showLine: true, fill: "shape", backgroundColor: bandColor(band, n), borderWidth: 0, pointRadius: 0,
      tension: sharp ? 0 : p.tension,
      order: 100 + p.fills.length - i,
    });
  });
  const axis = (ticks: number[], min: number, max: number, tickPad: number, labelOffset: number, width?: number, height?: number) => ({
    type: "linear", min, max,
    grid: { display: true, drawOnChartArea: false, drawTicks: true, tickLength: 4, tickColor: "#000", tickWidth: 1 },
    border: { display: false },
    ticks: { font: tickFont, color: "#000", padding: tickPad, labelOffset, autoSkip: false, maxRotation: 0, callback: (v: number) => fmt(v, 1) },
    afterBuildTicks: (s: any) => { s.ticks = ticks.map((value) => ({ value })); },
    afterFit: (s: any) => { if (width) s.width = width; if (height) s.height = height; },
  });
  return {
    type: "scatter",
    data: { datasets },
    options: {
      responsive: false, animation: false, events: [],
      layout: { padding: { right: 14, top: 0, bottom: 0, left: 0 } },
      plugins: {
        legend: { display: false }, tooltip: { enabled: false },
        title: {
          display: true, text: p.title, fullSize: false, color: "#000",
          font: { family: FONT, size: 15.2, weight: "normal", lineHeight: 1.1 },
          padding: { top: 2.5, bottom: 39 - 2.5 - 2 * 15.2 * 1.1 },
        },
      },
      scales: { x: axis(xTicks, X_MIN, X_MAX, 4, 0, undefined, 51), y: axis(yTicks, Y_MIN, Y_MAX, 3, 0.7, 70) },
    },
    plugins: [
      legendPlugin(p, star), framePlugin,
      labelsPlugin([
        { segs: xLabel, x: 238, y: 481, rot: 0 },
        { segs: yLabel, x: 18, y: 244.5, rot: -Math.PI / 2 },
      ]),
    ],
  };
}

function colorbarConfig(p: Panel): any {
  const n = p.levels.length - 1;
  const lo = p.levels[0], hi = p.levels[n];
  const datasets = p.levels.slice(0, n).map((v, i) => ({
    data: [[v, p.levels[i + 1]]], backgroundColor: bandColor(i, n), barPercentage: 1, categoryPercentage: 1, grouped: false, borderWidth: 0,
  }));
  return {
    type: "bar",
    data: { labels: [""], datasets },
    options: {
      responsive: false, animation: false, events: [],
      layout: { padding: { top: 10, bottom: 10, left: 0, right: 0 } },
      plugins: { legend: { display: false }, tooltip: { enabled: false } },
      scales: {
        x: { display: false },
        y: {
          type: "linear", position: "right", min: lo, max: hi,
          grid: { display: true, drawOnChartArea: false, drawTicks: true, tickLength: 4, tickColor: "#000" },
          border: { display: false },
          ticks: { font: tickFont, color: "#000", padding: 3, labelOffset: 0.7, autoSkip: false, callback: (v: number) => fmt(v, p.decimals) },
          afterBuildTicks: (s: any) => { s.ticks = p.cbTicks.map((value) => ({ value })); },
          afterFit: (s: any) => { s.width = 69; },
        },
      },
    },
    plugins: [framePlugin, labelsPlugin([{ segs: cbLabel, x: p.cbLabelOffset, y: 214, rot: -Math.PI / 2 }])],
  };
}

function PanelView({ p }: { p: Panel }) {
  const mainRef = useRef<HTMLCanvasElement>(null);
  const cbRef = useRef<HTMLCanvasElement>(null);
  useEffect(() => {
    const star = makeStar(13);
    const a = new Chart(mainRef.current!, mainConfig(p, star));
    const b = new Chart(cbRef.current!, colorbarConfig(p));
    return () => { a.destroy(); b.destroy(); };
  }, [p]);
  return (
    <>
      <canvas ref={mainRef} width={420} height={500} style={{ position: "absolute", left: p.left - 70, top: p.top - 39, width: 420, height: 500 }} />
      <canvas ref={cbRef} width={90} height={430} style={{ position: "absolute", left: p.left + 357, top: p.top - 10, width: 90, height: 430 }} />
    </>
  );
}

export default function App() {
  return (
    <div style={{ position: "absolute", left: 0, top: 0, width: 1103, height: 1565, overflow: "hidden", background: "#fff", filter: "blur(0.35px)" }}>
      {panels.map((p) => <PanelView key={p.title.join("|")} p={p} />)}
    </div>
  );
}
